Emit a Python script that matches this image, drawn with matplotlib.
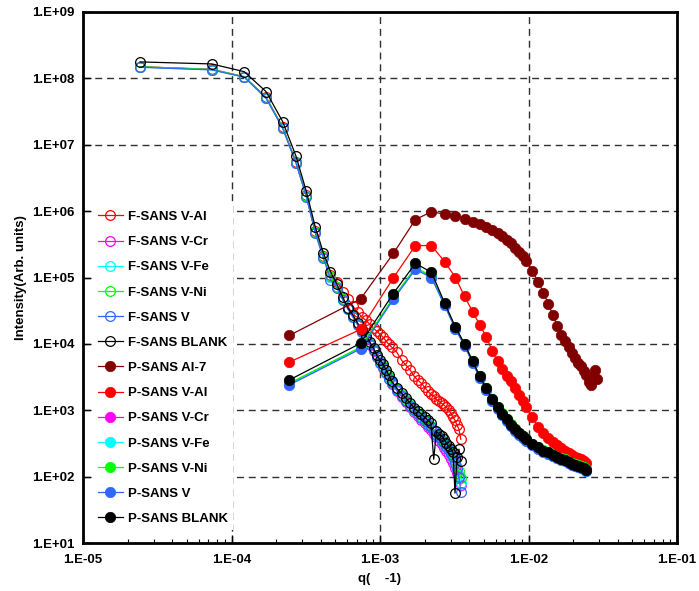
import numpy as np
import matplotlib
matplotlib.use("Agg")
import matplotlib.pyplot as plt
from matplotlib.ticker import FuncFormatter, FixedLocator, NullLocator, NullFormatter

plt.rcParams['font.family'] = ['Liberation Sans', 'DejaVu Sans']
plt.rcParams['font.weight'] = 'bold'

# ---- F-SANS (open circles), q in 1/A ----
q_fsans = np.array([0.242, 0.738, 1.22, 1.71, 2.21, 2.72, 3.19, 3.66, 4.15, 4.64,
                    5.13, 5.62, 6.11, 6.60, 7.09, 7.58, 8.07, 8.56, 9.05, 9.54,
                    10.03, 10.52, 11.01, 11.50, 12.0, 13.0, 14.0, 15.0, 16.0, 17.0,
                    18.0, 19.0, 20.0, 21.0, 22.0, 23.0, 24.0, 25.0, 26.0, 27.0,
                    28.0, 29.0, 30.0, 31.0, 32.0, 33.0, 34.0, 35.0]) * 1e-4

f_v_al = [1.50e8, 1.37e8, 1.06e8, 5.2e7, 1.85e7, 5.5e6, 1.72e6, 5.0e5, 2.1e5, 1.1e5,
          8.7e4, 6.15e4, 4.67e4, 3.66e4, 2.98e4, 2.50e4, 2.25e4, 1.96e4, 1.71e4, 1.54e4,
          1.39e4, 1.25e4, 1.09e4, 9.8e3, 8.9e3, 7.45e3, 5.65e3, 4.75e3, 4.0e3, 3.24e3,
          2.83e3, 2.55e3, 2.22e3, 1.93e3, 1.74e3, 1.63e3, 1.46e3, 1.36e3, 1.27e3, 1.19e3,
          1.11e3, 1.0e3, 9.0e2, 7.85e2, 7.1e2, 5.95e2, 5.2e2, 3.66e2]
f_v_cr = [1.49e8, 1.36e8, 1.05e8, 5.1e7, 1.8e7, 5.4e6, 1.7e6, 4.85e5, 2.03e5, 1.03e5,
          7.15e4, 4.7e4, 3.3e4, 2.5e4, 1.9e4, 1.5e4, 1.2e4, 9.6e3, 7.8e3, 6.3e3,
          5.1e3, 4.3e3, 3.6e3, 2.95e3, 2.5e3, 1.95e3, 1.6e3, 1.35e3, 1.12e3, 9.5e2,
          8.2e2, 7.2e2, 6.4e2, 5.6e2, 5.0e2, 4.4e2, 3.9e2, 3.4e2, 3.1e2, 2.7e2,
          2.4e2, 2.1e2, 1.85e2, 1.6e2, 1.35e2, 1.15e2, 9.5e1, 7.5e1]
f_v_fe = [1.48e8, 1.35e8, 1.05e8, 5.05e7, 1.8e7, 5.35e6, 1.68e6, 4.8e5, 2.02e5, 1.02e5,
          7.1e4, 4.65e4, 3.3e4, 2.5e4, 1.95e4, 1.52e4, 1.22e4, 9.9e3, 8.0e3, 6.5e3,
          5.3e3, 4.5e3, 3.7e3, 3.05e3, 2.55e3, 2.05e3, 1.68e3, 1.42e3, 1.18e3, 1.0e3,
          8.8e2, 7.8e2, 7.0e2, 6.2e2, 5.5e2, 4.8e2, 4.3e2, 3.9e2, 3.5e2, 3.15e2,
          2.8e2, 2.5e2, 2.2e2, 1.9e2, 1.6e2, 1.3e2, 1.05e2, 8.0e1]
f_v_ni = [1.50e8, 1.36e8, 1.05e8, 5.1e7, 1.8e7, 5.4e6, 1.7e6, 4.9e5, 2.05e5, 1.05e5,
          7.2e4, 4.7e4, 3.35e4, 2.55e4, 2.0e4, 1.55e4, 1.25e4, 1.0e4, 8.2e3, 6.6e3,
          5.4e3, 4.6e3, 3.8e3, 3.15e3, 2.65e3, 2.1e3, 1.7e3, 1.45e3, 1.2e3, 1.02e3,
          9.0e2, 8.0e2, 7.2e2, 6.3e2, 5.7e2, 5.0e2, 4.4e2, 4.0e2, 3.6e2, 3.3e2,
          2.9e2, 2.6e2, 2.3e2, 2.0e2, 1.7e2, 1.4e2, 1.2e2, 9.5e1]
f_v = [1.47e8, 1.34e8, 1.04e8, 5.0e7, 1.78e7, 5.3e6, 1.65e6, 4.75e5, 2.0e5, 9.3e4,
       7.0e4, 4.6e4, 3.3e4, 2.5e4, 1.95e4, 1.5e4, 1.22e4, 9.8e3, 8.0e3, 6.4e3,
       5.2e3, 4.5e3, 3.7e3, 3.0e3, 2.6e3, 2.0e3, 1.65e3, 1.4e3, 1.15e3, 1.0e3,
       8.8e2, 7.6e2, 7.0e2, 6.0e2, 5.5e2, 4.9e2, 4.3e2, 3.9e2, 3.5e2, 3.2e2,
       2.8e2, 2.5e2, 2.2e2, 1.95e2, 1.6e2, 1.3e2, 1.0e2, 5.9e1]
f_blank = [1.77e8, 1.65e8, 1.26e8, 6.3e7, 2.24e7, 6.7e6, 1.99e6, 5.85e5, 2.38e5, 1.23e5,
           7.85e4, 5.0e4, 3.42e4, 2.69e4, 2.03e4, 1.60e4, 1.30e4, 1.05e4, 8.55e3, 6.7e3,
           5.65e3, 4.92e3, 4.0e3, 3.36e3, 2.73e3, 2.14e3, 1.80e3, 1.51e3, 1.27e3, 1.07e3,
           9.7e2, 8.7e2, 7.85e2, 7.1e2, 6.4e2, 1.83e2, 4.83e2, 4.36e2, 4.06e2, 3.66e2,
           3.19e2, 2.88e2, 2.59e2, 2.34e2, 5.65e1, 1.96e2, 2.59e2, 1.71e2]

# ---- P-SANS (filled circles) ----
q_psans = np.array([0.245, 0.74, 1.23, 1.73, 2.22, 2.72, 3.22, 3.71, 4.21, 4.70,
                    5.20, 5.69, 6.19, 6.68, 7.18, 7.67, 8.17, 8.66, 9.16, 9.65,
                    10.6, 11.6, 12.6, 13.6, 14.6, 15.6, 16.6, 17.6, 18.6, 19.6,
                    20.6, 21.6, 22.6, 23.6, 24.5]) * 1e-3
q_al7 = np.array([0.245, 0.74, 1.23, 1.73, 2.22, 2.72, 3.22, 3.71, 4.21, 4.70,
                  5.20, 5.69, 6.19, 6.68, 7.18, 7.67, 8.17, 8.66, 9.16, 9.65,
                  10.6, 11.6, 12.6, 13.6, 14.6, 15.6, 16.6, 17.6, 18.6, 19.6,
                  20.6, 21.6, 22.6, 23.6, 24.5, 25.5, 26.5, 27.3, 28.0, 28.8]) * 1e-3

p_al7 = [1.34e4, 4.75e4, 2.30e5, 7.45e5, 9.8e5, 9.0e5, 8.4e5, 7.7e5, 6.95e5, 6.4e5,
         5.8e5, 5.2e5, 4.67e5, 4.17e5, 3.73e5, 3.30e5, 2.83e5, 2.46e5, 2.10e5, 1.80e5,
         1.25e5, 8.7e4, 5.94e4, 4.0e4, 2.69e4, 1.87e4, 1.34e4, 1.09e4, 8.9e3, 7.2e3,
         6.05e3, 5.2e3, 4.6e3, 3.85e3, 3.36e3, 2.64e3, 2.38e3, 3.13e3, 4.0e3, 2.93e3]
p_v_al = [5.3e3, 1.65e4, 9.9e4, 3.03e5, 3.03e5, 1.74e5, 1.0e5, 5.2e4, 3.03e4, 1.93e4,
          1.27e4, 7.85e3, 5.45e3, 4.14e3, 3.24e3, 2.73e3, 2.14e3, 1.68e3, 1.36e3, 1.11e3,
          7.85e2, 5.55e2, 4.5e2, 3.86e2, 3.36e2, 3.03e2, 2.73e2, 2.46e2, 2.30e2, 2.14e2,
          2.0e2, 1.90e2, 1.83e2, 1.74e2, 1.63e2]
p_v_cr = [2.5e3, 8.7e3, 4.85e4, 1.38e5, 1.04e5, 3.9e4, 1.72e4, 9.6e3, 5.3e3, 3.15e3,
          2.1e3, 1.43e3, 1.09e3, 8.7e2, 7.1e2, 5.9e2, 5.05e2, 4.5e2, 3.95e2, 3.6e2,
          3.08e2, 2.74e2, 2.43e2, 2.3e2, 2.08e2, 1.94e2, 1.85e2, 1.78e2, 1.63e2, 1.56e2,
          1.50e2, 1.46e2, 1.41e2, 1.35e2, 1.30e2]
p_v_fe = [2.45e3, 8.6e3, 4.8e4, 1.36e5, 1.02e5, 3.85e4, 1.7e4, 9.5e3, 5.2e3, 3.1e3,
          2.05e3, 1.4e3, 1.07e3, 8.6e2, 7.0e2, 5.8e2, 5.0e2, 4.4e2, 3.9e2, 3.55e2,
          3.02e2, 2.7e2, 2.4e2, 2.26e2, 2.05e2, 1.91e2, 1.83e2, 1.75e2, 1.62e2, 1.54e2,
          1.48e2, 1.44e2, 1.39e2, 1.33e2, 1.22e2]
p_v_ni = [2.55e3, 8.9e3, 5.0e4, 1.40e5, 1.06e5, 3.95e4, 1.75e4, 9.8e3, 5.5e3, 3.3e3,
          2.2e3, 1.5e3, 1.13e3, 9.0e2, 7.4e2, 6.1e2, 5.2e2, 4.6e2, 4.1e2, 3.7e2,
          3.15e2, 2.8e2, 2.5e2, 2.36e2, 2.13e2, 1.99e2, 1.89e2, 1.82e2, 1.67e2, 1.59e2,
          1.54e2, 1.49e2, 1.43e2, 1.38e2, 1.28e2]
p_v = [2.40e3, 8.4e3, 4.7e4, 1.32e5, 1.0e5, 3.8e4, 1.68e4, 9.3e3, 5.1e3, 3.05e3,
       2.0e3, 1.37e3, 1.05e3, 8.4e2, 6.9e2, 5.7e2, 4.9e2, 4.3e2, 3.85e2, 3.5e2,
       2.98e2, 2.65e2, 2.36e2, 2.22e2, 2.02e2, 1.88e2, 1.80e2, 1.72e2, 1.59e2, 1.52e2,
       1.46e2, 1.42e2, 1.37e2, 1.31e2, 1.20e2]
p_blank = [2.86e3, 1.02e4, 5.74e4, 1.63e5, 1.20e5, 4.17e4, 1.80e4, 1.0e4, 5.45e3, 3.24e3,
           2.14e3, 1.46e3, 1.11e3, 8.85e2, 7.3e2, 6.05e2, 5.18e2, 4.59e2, 4.06e2, 3.66e2,
           3.13e2, 2.78e2, 2.46e2, 2.33e2, 2.10e2, 1.96e2, 1.87e2, 1.80e2, 1.65e2, 1.57e2,
           1.52e2, 1.47e2, 1.41e2, 1.37e2, 1.25e2]

x_ticks = [1e-5, 1e-4, 1e-3, 1e-2, 1e-1]
y_ticks = [1e1, 1e2, 1e3, 1e4, 1e5, 1e6, 1e7, 1e8, 1e9]

RED, MAG, CYAN, GREEN, BLUE, BLACK, DRED = '#FF0000', '#FF00FF', '#00FFFF', '#00FF00', '#3366FF', '#000000', '#800000'

fsans = [
    ('F-SANS V-Al', f_v_al, RED),
    ('F-SANS V-Cr', f_v_cr, MAG),
    ('F-SANS V-Fe', f_v_fe, CYAN),
    ('F-SANS V-Ni', f_v_ni, GREEN),
    ('F-SANS V', f_v, BLUE),
    ('F-SANS BLANK', f_blank, BLACK),
]
psans = [
    ('P-SANS Al-7', q_al7, p_al7, DRED),
    ('P-SANS V-Al', q_psans, p_v_al, RED),
    ('P-SANS V-Cr', q_psans, p_v_cr, MAG),
    ('P-SANS V-Fe', q_psans, p_v_fe, CYAN),
    ('P-SANS V-Ni', q_psans, p_v_ni, GREEN),
    ('P-SANS V', q_psans, p_v, BLUE),
    ('P-SANS BLANK', q_psans, p_blank, BLACK),
]

fig = plt.figure(figsize=(6.99, 5.91), dpi=100)
ax = fig.add_axes([83 / 699, 48 / 591, 594 / 699, 531 / 591])

for label, vals, c in fsans:
    ax.plot(q_fsans, vals, '-o', color=c, lw=0.9, ms=7, mfc='none', mec=c, mew=0.9,
            label=label, zorder=3)
for label, q, vals, c in psans:
    ax.plot(q, vals, '-o', color=c, lw=0.9, ms=7.5, mfc=c, mec=c, mew=0.5,
            label=label, zorder=4)

ax.set_xscale('log')
ax.set_yscale('log')
ax.set_xlim(1e-5, 1e-1)
ax.set_ylim(1e1, 1e9)

# Excel-style "1.E+05" labels on fixed decade ticks
fmt = FuncFormatter(lambda v, p: '1.E%+03d' % int(round(np.log10(v))))
ax.xaxis.set_major_locator(FixedLocator(x_ticks))
ax.yaxis.set_major_locator(FixedLocator(y_ticks))
ax.xaxis.set_major_formatter(fmt)
ax.yaxis.set_major_formatter(fmt)
minor_x = [m * d for d in x_ticks[:-1] for m in range(2, 10)]
ax.xaxis.set_minor_locator(FixedLocator(minor_x))
ax.xaxis.set_minor_formatter(NullFormatter())
ax.yaxis.set_minor_locator(NullLocator())

ax.tick_params(which='major', direction='in', length=6, width=1, labelsize=9.5, top=False, right=False)
ax.tick_params(which='minor', direction='in', length=3, width=0.8, top=False, right=False)
ax.tick_params(axis='x', which='major', pad=8)
ax.tick_params(axis='y', which='major', pad=6)
for t in ax.get_xticklabels() + ax.get_yticklabels():
    t.set_fontweight('bold')

for s in ax.spines.values():
    s.set_linewidth(2)

ax.grid(True, which='major', color='#303030', lw=1, ls=(0, (5, 3.5)), zorder=0)
ax.set_axisbelow(True)

ax.set_xlabel('q(    -1)', fontsize=9.5, fontweight='bold', labelpad=5)
ax.set_ylabel('Intensity(Arb. units)', fontsize=9.5, fontweight='bold', labelpad=4)

leg = ax.legend(loc='upper left', bbox_to_anchor=(0.005, 0.648), fontsize=9.5,
                frameon=True, fancybox=False, framealpha=1, edgecolor='none',
                facecolor='white', handlelength=1.9, handletextpad=0.35,
                labelspacing=0.98, borderpad=0.4)
leg.set_zorder(5)
for t in leg.get_texts():
    t.set_fontweight('bold')

fig.savefig('out.png', dpi=100)
